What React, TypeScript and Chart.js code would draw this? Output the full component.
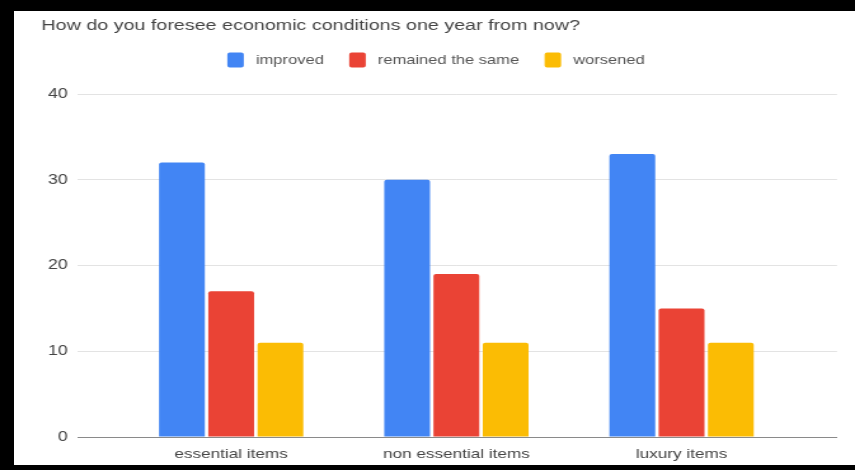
import React, { useEffect, useRef } from "react";
import { Chart, registerables } from "chart.js";

Chart.register(...registerables);

const title = "How do you foresee economic conditions one year from now?";
const categories = ["essential items", "non essential items", "luxury items"];
const seriesNames = ["improved", "remained the same", "worsened"];
const improved = [32, 30, 33];
const remainedSame = [17, 19, 15];
const worsened = [11, 11, 11];
const yTicks = [0, 10, 20, 30, 40];
const colors = ["#4285F4", "#EA4335", "#FBBC04"];

const FONT = "'Liberation Sans', Arial, Helvetica, sans-serif";

const legendNudge = {
  id: "legendNudge",
  afterLayout(chart: any) {
    if (chart.legend) {
      chart.legend.left -= 4;
      chart.legend.right -= 4;
    }
  },
};

export default function App() {
  const ref = useRef<HTMLCanvasElement | null>(null);

  useEffect(() => {
    document.body.style.margin = "0";
    const canvas = ref.current;
    if (!canvas) return;
    Chart.defaults.font.family = FONT;
    const series = [improved, remainedSame, worsened];
    const chart = new Chart(canvas, {
      type: "bar",
      data: {
        datasets: series.map((vals, si) => ({
          label: seriesNames[si],
          data: vals.map((v, i) => ({ x: i, y: v })),
          backgroundColor: colors[si],
          borderWidth: 0,
          borderRadius: 2,
          categoryPercentage: 0.656,
          barPercentage: 0.93,
        })),
      },
      plugins: [legendNudge],
      options: {
        responsive: false,
        animation: false,
        layout: { padding: { left: 21.6, right: 14.2, top: 0, bottom: 0 } },
        plugins: {
          tooltip: { enabled: false },
          title: {
            display: true,
            text: title,
            align: "start",
            color: "#444444",
            font: { size: 15.5, weight: "normal", lineHeight: "13px" },
            padding: { top: 8.5, bottom: 0 },
          },
          legend: {
            display: true,
            position: "top",
            align: "center",
            labels: {
              font: { size: 13 },
              color: "#555555",
              boxWidth: 19,
              boxHeight: 21,
              padding: 17,
              generateLabels: (c: any) =>
                Chart.defaults.plugins.legend.labels
                  .generateLabels(c)
                  .map((item: any) => ({
                    ...item,
                    lineWidth: 6,
                    strokeStyle: "#ffffff",
                    borderRadius: 5,
                  })),
            },
          },
        },
        scales: {
          x: {
            type: "linear",
            position: "bottom",
            min: -0.68,
            max: 2.69,
            offset: false,
            grid: { display: false, drawTicks: false },
            border: { display: true, color: "#8a8a8a", width: 1 },
            afterBuildTicks: (s: any) => {
              s.ticks = categories.map((_, i) => ({ value: i }));
            },
            ticks: {
              autoSkip: false,
              maxRotation: 0,
              padding: 9,
              color: "#444444",
              font: { size: 13.5 },
              callback: (v: any) => categories[Number(v)] ?? "",
            },
            afterFit: (s: any) => {
              s.height = 28;
            },
          },
          spacer: {
            type: "linear",
            axis: "x",
            position: "top",
            display: true,
            grid: { display: false, drawTicks: false },
            border: { display: false },
            ticks: { display: false },
            afterFit: (s: any) => {
              s.height = 13.5;
            },
          },
          y: {
            type: "linear",
            min: yTicks[0],
            max: yTicks[yTicks.length - 1],
            afterBuildTicks: (s: any) => {
              s.ticks = yTicks.map((v) => ({ value: v }));
            },
            grid: { color: "#e3e3e3", lineWidth: 1, drawTicks: false },
            border: { display: false },
            ticks: {
              padding: 8,
              color: "#444444",
              font: { size: 14 },
            },
            afterFit: (s: any) => {
              s.width = 28.8;
            },
          },
        },
      } as any,
    });
    return () => chart.destroy();
  }, []);

  return (
    <div
      style={{
        width: 855,
        height: 470,
        boxSizing: "border-box",
        borderTop: "11px solid #000",
        borderLeft: "14px solid #000",
        borderBottom: "5px solid #000",
        background: "#fff",
        overflow: "hidden",
      }}
    >
      <canvas
        ref={ref}
        width={662}
        height={454}
        style={{ width: "841px", height: "454px", display: "block" }}
      />
    </div>
  );
}
